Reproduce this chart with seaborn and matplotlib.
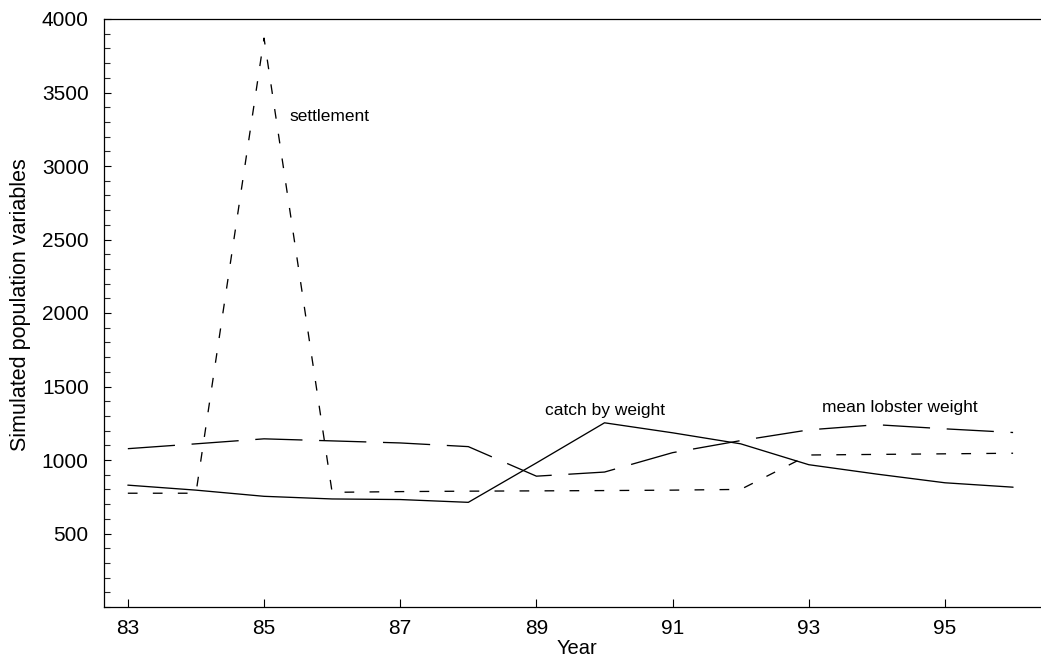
import matplotlib
matplotlib.use("Agg")
import matplotlib.pyplot as plt
from matplotlib.ticker import MultipleLocator
import numpy as np
import pandas as pd
import seaborn as sns

# Simulated lobster population variables, 1983-1996
years = [83, 84, 85, 86, 87, 88, 89, 90, 91, 92, 93, 94, 95, 96]
settlement = [774, 774, 3870, 780, 785, 788, 790, 792, 795, 800, 1034, 1038, 1042, 1046]
catch_by_weight = [829, 795, 753, 735, 731, 712, 980, 1253, 1185, 1110, 968, 904, 845, 815]
mean_lobster_weight = [1077, 1110, 1144, 1130, 1116, 1091, 890, 918, 1050, 1132, 1205, 1240, 1212, 1187]

x_ticks = [83, 85, 87, 89, 91, 93, 95]
y_ticks = [500, 1000, 1500, 2000, 2500, 3000, 3500, 4000]

sns.set_theme(style="white")
plt.rcParams["font.family"] = ["Liberation Sans", "DejaVu Sans"]
plt.rcParams["lines.scale_dashes"] = False

df = pd.DataFrame({
    "Year": years,
    "settlement": settlement,
    "catch": catch_by_weight,
    "mean_weight": mean_lobster_weight,
})

fig = plt.figure(figsize=(10.41, 6.57), dpi=100)
ax = fig.add_axes([104 / 1041, 1 - 607 / 657, 1 - 104 / 1041, (607 - 19) / 657])

lw = 0.95
sns.lineplot(data=df, x="Year", y="settlement", ax=ax, color="black",
             linewidth=lw, linestyle=(0, (7, 11)))
sns.lineplot(data=df, x="Year", y="catch", ax=ax, color="black",
             linewidth=lw, linestyle="-")
sns.lineplot(data=df, x="Year", y="mean_weight", ax=ax, color="black",
             linewidth=lw, linestyle=(0, (34, 12)))

ax.set_xlim(82.65, 96.41)
ax.set_ylim(0, 4000)
ax.set_xticks(x_ticks)
ax.set_xticklabels([str(v) for v in x_ticks])
ax.set_yticks(y_ticks)
ax.set_yticklabels([str(v) for v in y_ticks])
ax.yaxis.set_minor_locator(MultipleLocator(100))

ax.tick_params(axis="x", which="major", direction="in", length=6, width=0.8,
               labelsize=15, pad=9, colors="black", bottom=True)
ax.tick_params(axis="y", which="major", direction="in", length=5, width=0.8,
               labelsize=15, pad=11, colors="black", left=True)
ax.tick_params(axis="y", which="minor", direction="in", length=4, width=0.8,
               left=True)

for side in ["left", "bottom", "top"]:
    ax.spines[side].set_visible(True)
    ax.spines[side].set_color("black")
    ax.spines[side].set_linewidth(0.9)
ax.spines["right"].set_visible(False)

ax.set_xlabel("Year", fontsize=14.5, color="black")
ax.xaxis.set_label_coords((577 - 104) / (1041 - 104), -(648 - 607) / 588)
ax.xaxis.label.set_va("center")
ax.set_ylabel("Simulated population variables", fontsize=15.5, color="black")
ax.yaxis.set_label_coords(-(104 - 21) / (1041 - 104), (607 - 305) / 588)
ax.yaxis.label.set_va("center")

ax.text(85.38, 3340, "settlement", fontsize=12.5, va="center", ha="left", color="black")
ax.text(89.13, 1340, "catch by weight", fontsize=12.5, va="center", ha="left", color="black")
ax.text(93.2, 1355, "mean lobster weight", fontsize=12.5, va="center", ha="left", color="black")

fig.savefig("out.png", dpi=100)
